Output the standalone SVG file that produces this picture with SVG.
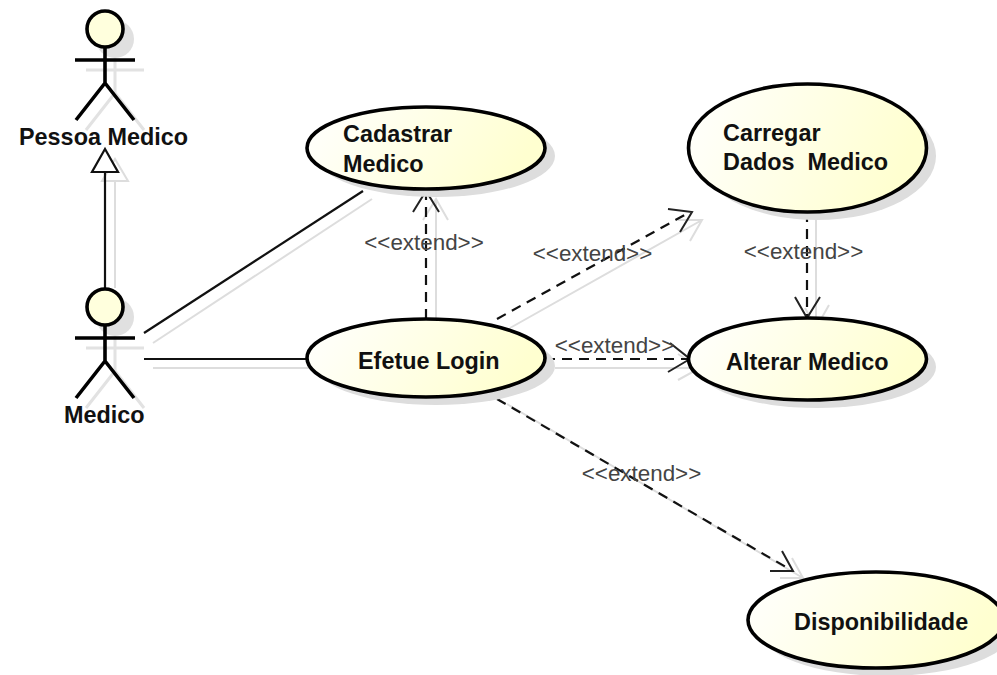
<svg xmlns="http://www.w3.org/2000/svg" width="997" height="675" viewBox="0 0 997 675">
<style>
.t{font-family:"Liberation Sans",Arial,sans-serif;font-weight:bold;font-size:23.400px;fill:#111}
.x{font-family:"Liberation Sans",Arial,sans-serif;font-size:22.400px;fill:#444;text-anchor:middle}
.u{fill:url(#g);stroke:#000;stroke-width:3.600}
.us{fill:#ddd;stroke:none}
.a{fill:none;stroke:#000;stroke-width:3.600}
.as{fill:none;stroke:#e2e2e2;stroke-width:3}
.h{fill:#ffffdd;stroke:#000;stroke-width:3.600}
.hs{fill:#e0e0e0;stroke:none}
.l{fill:none;stroke:#111;stroke-width:2.200}
.d{fill:none;stroke:#111;stroke-width:2.200;stroke-dasharray:10 7}
.s{fill:none;stroke:#ddd;stroke-width:2}
.w{fill:none;stroke:#222;stroke-width:2}
</style>
<defs>
<linearGradient id="g" x1="0" y1="0" x2="1" y2="0.25"><stop offset="0" stop-color="#ffffff"/><stop offset="1" stop-color="#ffffd0"/></linearGradient>
</defs>
<rect width="997" height="675" fill="#ffffff"/>
<g id="connectors">
<g id="connector-shadows">
<path class="s" d="M115 288V182M102 181L115 159L128 181Z"/>
<path class="s" d="M153 343L372 199"/>
<path class="s" d="M153 368H317"/>
<path class="s" d="M436 329V200M423 220L436 199L448 220"/>
<path class="s" d="M510 328L702 220M678 220L702 220L690 241"/>
<path class="s" d="M555 368H700M678 354L700 368L678 380"/>
<path class="s" d="M816 212V328M805 308L816 328L829 305"/>
<path class="s" d="M507 404L803 578M792 558L803 578L780 578"/>
</g>
<g id="gen"><path class="l" d="M105 288V172"/><path d="M105 149L92 172H118Z" fill="#fff" stroke="#111" stroke-width="2.200"/></g>
<path id="assoc1" class="l" d="M144 333L363 191"/>
<path id="assoc2" class="l" d="M144 359H307"/>
<g id="ext1"><path class="d" d="M426 319V192"/><path class="w" d="M413 212L426 191L439 212"/></g>
<g id="ext2"><path class="d" d="M497 319L690 212"/><path class="w" d="M668 209L692 212L680 232"/></g>
<g id="ext3"><path class="d" d="M545 359H688"/><path class="w" d="M670 343L690 359L668 372"/></g>
<g id="ext4"><path class="d" d="M807 212V316"/><path class="w" d="M795 297L807 318L820 297"/></g>
<g id="ext5"><path class="d" d="M497 399L791 570"/><path class="w" d="M782 551L793 571L770 571"/></g>
</g>
<g id="actor-pessoa-medico">
<g class="as"><circle class="hs" cx="115" cy="39" r="19"/><path d="M115 58V93M86 70H144M115 93L86 130M115 93L144 130"/></g>
<path class="a" d="M105 48V83M75 60H135M105 83L76 120M105 83L134 120"/>
<circle class="h" cx="105" cy="29" r="18"/>
<text class="t" x="19" y="145">Pessoa Medico</text>
</g>
<g id="actor-medico">
<g class="as"><circle class="hs" cx="115" cy="317" r="19"/><path d="M115 336V371M86 348H144M115 371L86 408M115 371L144 408"/></g>
<path class="a" d="M105 326V361M75 338H135M105 361L76 398M105 361L134 398"/>
<circle class="h" cx="105" cy="307" r="18"/>
<text class="t" x="64" y="423">Medico</text>
</g>
<g id="uc-cadastrar">
<ellipse class="us" cx="436" cy="156" rx="119" ry="41"/>
<ellipse class="u" cx="426" cy="148" rx="119" ry="41"/>
<text class="t" x="343" y="142">Cadastrar</text><text class="t" x="343" y="172">Medico</text>
</g>
<g id="uc-efetue-login">
<ellipse class="us" cx="436" cy="366" rx="119" ry="39"/>
<ellipse class="u" cx="426" cy="358" rx="119" ry="39"/>
<text class="t" x="358" y="369">Efetue Login</text>
</g>
<g id="uc-carregar">
<ellipse class="us" cx="817" cy="156" rx="119" ry="64"/>
<ellipse class="u" cx="807.500" cy="148" rx="119" ry="64"/>
<text class="t" x="723" y="141">Carregar</text><text class="t" x="723" y="170" xml:space="preserve">Dados  Medico</text>
</g>
<g id="uc-alterar">
<ellipse class="us" cx="817" cy="367" rx="119" ry="41"/>
<ellipse class="u" cx="807.500" cy="359" rx="119" ry="41"/>
<text class="t" x="726" y="370">Alterar Medico</text>
</g>
<g id="uc-disponibilidade">
<ellipse class="us" cx="886" cy="628" rx="128" ry="48"/>
<ellipse class="u" cx="876" cy="620" rx="128" ry="48"/>
<text class="t" x="794" y="630">Disponibilidade</text>
</g>
<g id="labels">
<text class="x" x="424" y="250">&lt;&lt;extend&gt;&gt;</text>
<text class="x" x="592.500" y="261">&lt;&lt;extend&gt;&gt;</text>
<text class="x" x="614.500" y="353">&lt;&lt;extend&gt;&gt;</text>
<text class="x" x="803.500" y="259">&lt;&lt;extend&gt;&gt;</text>
<text class="x" x="641.500" y="481">&lt;&lt;extend&gt;&gt;</text>
</g>
</svg>
